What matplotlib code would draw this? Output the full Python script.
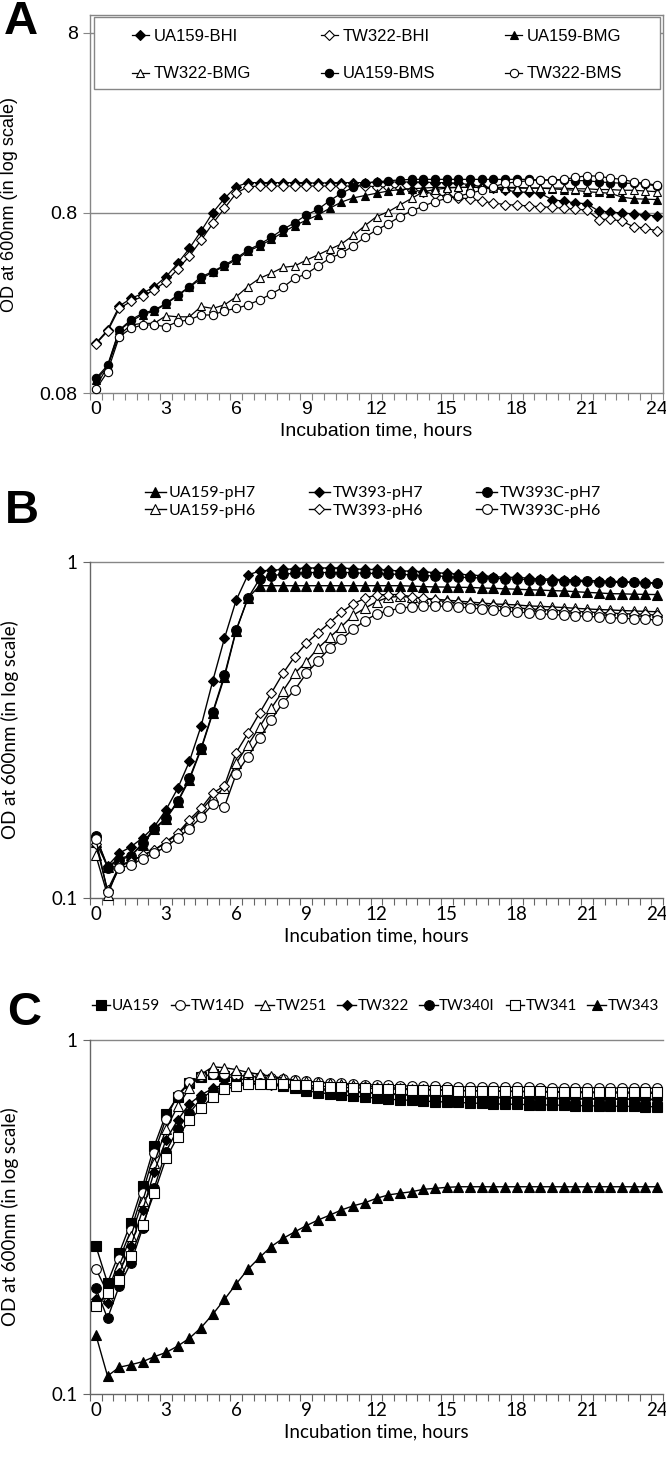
import matplotlib
matplotlib.use('Agg')
import matplotlib.pyplot as plt
from matplotlib.patches import Rectangle
from matplotlib.ticker import FixedLocator, FixedFormatter, NullLocator

# sampling times (h)
hours = [0, 0.5, 1, 1.5, 2, 2.5, 3, 3.5, 4, 4.5, 5, 5.5, 6, 6.5, 7, 7.5, 8, 8.5,
         9, 9.5, 10, 10.5, 11, 11.5, 12, 12.5, 13, 13.5, 14, 14.5, 15, 15.5, 16,
         16.5, 17, 17.5, 18, 18.5, 19, 19.5, 20, 20.5, 21, 21.5, 22, 22.5, 23,
         23.5, 24]

# ---- panel A ----
a_labels = ['UA159-BHI', 'TW322-BHI', 'UA159-BMG', 'TW322-BMG', 'UA159-BMS', 'TW322-BMS']
ua_bhi = [0.151, 0.179, 0.243, 0.268, 0.286, 0.312, 0.354, 0.42, 0.509, 0.635,
          0.804, 0.964, 1.12, 1.18, 1.18, 1.18, 1.18, 1.18, 1.18, 1.17, 1.18,
          1.18, 1.18, 1.18, 1.19, 1.19, 1.19, 1.19, 1.19, 1.18, 1.18, 1.17, 1.15,
          1.12, 1.1, 1.07, 1.05, 1.04, 1.03, 0.95, 0.93, 0.91, 0.9, 0.82, 0.81,
          0.8, 0.79, 0.78, 0.77]
tw_bhi = [0.15, 0.176, 0.236, 0.258, 0.275, 0.30, 0.333, 0.39, 0.46, 0.565,
          0.70, 0.85, 1.03, 1.12, 1.13, 1.13, 1.13, 1.13, 1.13, 1.13, 1.13, 1.13,
          1.13, 1.13, 1.12, 1.11, 1.1, 1.08, 1.05, 1.02, 0.99, 0.97, 0.96, 0.93,
          0.91, 0.89, 0.885, 0.875, 0.867, 0.86, 0.85, 0.84, 0.83, 0.735, 0.74,
          0.72, 0.67, 0.66, 0.635]
ua_bmg = [0.094, 0.112, 0.178, 0.2, 0.218, 0.228, 0.25, 0.277, 0.31, 0.345,
          0.375, 0.405, 0.44, 0.49, 0.525, 0.57, 0.625, 0.68, 0.73, 0.78, 0.85,
          0.92, 0.97, 1.0, 1.03, 1.06, 1.08, 1.09, 1.1, 1.11, 1.11, 1.11, 1.11,
          1.11, 1.11, 1.11, 1.11, 1.1, 1.1, 1.09, 1.08, 1.07, 1.05, 1.04, 1.03,
          0.98, 0.96, 0.955, 0.95]
tw_bmg = [0.0867, 0.112, 0.168, 0.191, 0.195, 0.195, 0.215, 0.212, 0.212, 0.242,
          0.236, 0.247, 0.274, 0.312, 0.347, 0.37, 0.399, 0.406, 0.438, 0.468,
          0.503, 0.538, 0.6, 0.68, 0.764, 0.813, 0.886, 0.964, 1.05, 1.08, 1.1,
          1.11, 1.11, 1.11, 1.1, 1.1, 1.1, 1.1, 1.1, 1.1, 1.1, 1.09, 1.09, 1.08,
          1.08, 1.07, 1.07, 1.06, 1.05]
ua_bms = [0.0964, 0.114, 0.179, 0.204, 0.222, 0.231, 0.252, 0.28, 0.312, 0.354,
          0.378, 0.411, 0.448, 0.498, 0.536, 0.586, 0.649, 0.706, 0.78, 0.838,
          0.937, 1.03, 1.11, 1.17, 1.19, 1.21, 1.22, 1.23, 1.23, 1.23, 1.23, 1.23,
          1.23, 1.23, 1.23, 1.23, 1.23, 1.23, 1.22, 1.22, 1.22, 1.21, 1.21, 1.19,
          1.18, 1.17, 1.17, 1.155, 1.13]
tw_bms = [0.0838, 0.105, 0.164, 0.183, 0.191, 0.191, 0.187, 0.199, 0.204, 0.217,
          0.217, 0.229, 0.236, 0.247, 0.263, 0.284, 0.309, 0.347, 0.367, 0.406,
          0.448, 0.478, 0.525, 0.586, 0.644, 0.696, 0.764, 0.82, 0.875, 0.925,
          0.964, 0.993, 1.03, 1.07, 1.12, 1.17, 1.19, 1.21, 1.22, 1.22, 1.23,
          1.26, 1.29, 1.28, 1.25, 1.23, 1.19, 1.17, 1.14]

# ---- panel B ----
b_labels = ['UA159-pH7', 'TW393-pH7', 'TW393C-pH7', 'UA159-pH6', 'TW393-pH6', 'TW393C-pH6']
ua_ph7 = [0.147, 0.124, 0.131, 0.134, 0.144, 0.16, 0.172, 0.193, 0.225, 0.277,
          0.355, 0.455, 0.625, 0.78, 0.85, 0.85, 0.85, 0.85, 0.85, 0.85, 0.85,
          0.85, 0.85, 0.85, 0.85, 0.85, 0.85, 0.848, 0.845, 0.843, 0.842, 0.841,
          0.84, 0.837, 0.835, 0.832, 0.83, 0.827, 0.825, 0.822, 0.82, 0.816,
          0.812, 0.809, 0.805, 0.804, 0.802, 0.801, 0.8]
tw_ph7 = [0.152, 0.1245, 0.136, 0.142, 0.151, 0.163, 0.183, 0.212, 0.255, 0.325,
          0.443, 0.593, 0.77, 0.915, 0.94, 0.945, 0.95, 0.955, 0.96, 0.96, 0.96,
          0.96, 0.955, 0.95, 0.95, 0.945, 0.94, 0.94, 0.935, 0.93, 0.925, 0.92,
          0.915, 0.91, 0.905, 0.9, 0.9, 0.895, 0.89, 0.89, 0.885, 0.885, 0.88,
          0.88, 0.875, 0.875, 0.87, 0.87, 0.865]
twc_ph7 = [0.153, 0.123, 0.13, 0.133, 0.146, 0.161, 0.173, 0.194, 0.227, 0.279,
           0.358, 0.461, 0.628, 0.78, 0.89, 0.91, 0.92, 0.925, 0.93, 0.93, 0.93,
           0.93, 0.93, 0.925, 0.925, 0.92, 0.92, 0.915, 0.91, 0.91, 0.905, 0.9,
           0.9, 0.895, 0.895, 0.89, 0.89, 0.885, 0.885, 0.88, 0.88, 0.875, 0.875,
           0.87, 0.87, 0.87, 0.87, 0.865, 0.865]
ua_ph6 = [0.134, 0.102, 0.125, 0.129, 0.134, 0.139, 0.146, 0.155, 0.168, 0.182,
          0.2, 0.212, 0.252, 0.285, 0.323, 0.367, 0.413, 0.466, 0.505, 0.554,
          0.597, 0.642, 0.695, 0.728, 0.762, 0.785, 0.79, 0.785, 0.78, 0.775,
          0.77, 0.765, 0.76, 0.755, 0.75, 0.748, 0.745, 0.74, 0.738, 0.735, 0.732,
          0.728, 0.725, 0.722, 0.72, 0.717, 0.715, 0.713, 0.711]
tw_ph6 = [0.145, 0.1056, 0.1245, 0.128, 0.134, 0.139, 0.147, 0.156, 0.171, 0.185,
          0.205, 0.216, 0.271, 0.309, 0.355, 0.407, 0.466, 0.523, 0.573, 0.616,
          0.66, 0.709, 0.75, 0.78, 0.798, 0.80, 0.80, 0.788, 0.78, 0.77, 0.762,
          0.755, 0.75, 0.745, 0.74, 0.735, 0.73, 0.726, 0.722, 0.719, 0.716, 0.713,
          0.71, 0.707, 0.705, 0.702, 0.70, 0.698, 0.695]
twc_ph6 = [0.15, 0.104, 0.1226, 0.1254, 0.131, 0.136, 0.142, 0.151, 0.161, 0.174,
           0.19, 0.187, 0.234, 0.263, 0.299, 0.339, 0.381, 0.416, 0.466, 0.508,
           0.554, 0.589, 0.63, 0.669, 0.70, 0.716, 0.728, 0.736, 0.74, 0.74, 0.738,
           0.735, 0.73, 0.725, 0.72, 0.715, 0.71, 0.706, 0.702, 0.698, 0.695,
           0.692, 0.689, 0.686, 0.683, 0.68, 0.678, 0.675, 0.672]

# ---- panel C ----
c_labels = ['UA159', 'TW14D', 'TW251', 'TW322', 'TW340I', 'TW341', 'TW343']
c_ua159 = [0.262, 0.206, 0.25, 0.305, 0.387, 0.502, 0.617, 0.692, 0.758, 0.785,
           0.80, 0.79, 0.78, 0.77, 0.76, 0.75, 0.74, 0.73, 0.72, 0.71, 0.705, 0.70,
           0.695, 0.69, 0.685, 0.68, 0.678, 0.675, 0.672, 0.67, 0.668, 0.666,
           0.664, 0.662, 0.66, 0.659, 0.658, 0.657, 0.656, 0.655, 0.654, 0.653,
           0.652, 0.651, 0.65, 0.65, 0.649, 0.648, 0.648]
c_tw14d = [0.226, 0.193, 0.24, 0.29, 0.37, 0.48, 0.60, 0.70, 0.76, 0.79, 0.80,
           0.80, 0.795, 0.79, 0.785, 0.78, 0.775, 0.77, 0.765, 0.76, 0.757, 0.754,
           0.751, 0.748, 0.746, 0.744, 0.742, 0.741, 0.74, 0.739, 0.738, 0.737,
           0.737, 0.736, 0.736, 0.735, 0.735, 0.735, 0.734, 0.734, 0.734, 0.733,
           0.733, 0.733, 0.732, 0.732, 0.732, 0.731, 0.731]
c_tw251 = [0.181, 0.188, 0.23, 0.28, 0.35, 0.45, 0.56, 0.65, 0.73, 0.80, 0.84,
           0.835, 0.825, 0.81, 0.80, 0.79, 0.78, 0.77, 0.765, 0.76, 0.755, 0.75,
           0.745, 0.74, 0.737, 0.734, 0.731, 0.728, 0.726, 0.724, 0.722, 0.72,
           0.719, 0.718, 0.717, 0.716, 0.715, 0.714, 0.713, 0.712, 0.711, 0.71,
           0.71, 0.709, 0.709, 0.708, 0.708, 0.707, 0.707]
c_tw322 = [0.186, 0.181, 0.22, 0.262, 0.331, 0.425, 0.522, 0.594, 0.66, 0.70,
           0.73, 0.75, 0.755, 0.755, 0.75, 0.745, 0.74, 0.735, 0.73, 0.725, 0.72,
           0.716, 0.712, 0.709, 0.706, 0.703, 0.70, 0.698, 0.696, 0.694, 0.692,
           0.69, 0.689, 0.688, 0.687, 0.686, 0.685, 0.684, 0.683, 0.682, 0.682,
           0.681, 0.681, 0.68, 0.68, 0.68, 0.679, 0.679, 0.678]
c_tw340i = [0.199, 0.1636, 0.202, 0.235, 0.294, 0.383, 0.484, 0.56, 0.621, 0.684,
            0.719, 0.74, 0.75, 0.755, 0.755, 0.75, 0.745, 0.74, 0.735, 0.73,
            0.725, 0.72, 0.716, 0.712, 0.709, 0.706, 0.703, 0.70, 0.698, 0.696,
            0.694, 0.692, 0.691, 0.69, 0.689, 0.688, 0.687, 0.686, 0.685, 0.685,
            0.684, 0.684, 0.683, 0.683, 0.682, 0.682, 0.681, 0.681, 0.68]
c_tw341 = [0.177, 0.193, 0.21, 0.245, 0.30, 0.37, 0.463, 0.533, 0.594, 0.641,
           0.692, 0.725, 0.74, 0.75, 0.752, 0.752, 0.75, 0.747, 0.744, 0.741,
           0.738, 0.735, 0.733, 0.731, 0.729, 0.727, 0.726, 0.724, 0.723, 0.722,
           0.721, 0.72, 0.719, 0.718, 0.718, 0.717, 0.717, 0.716, 0.716, 0.715,
           0.715, 0.714, 0.714, 0.713, 0.713, 0.713, 0.712, 0.712, 0.712]
c_tw343 = [0.147, 0.1124, 0.119, 0.121, 0.1234, 0.1275, 0.131, 0.1366, 0.1437,
           0.154, 0.168, 0.185, 0.2046, 0.225, 0.243, 0.261, 0.275, 0.287, 0.299,
           0.31, 0.32, 0.331, 0.34, 0.347, 0.357, 0.365, 0.369, 0.3727, 0.3786,
           0.381, 0.3835, 0.385, 0.385, 0.385, 0.385, 0.385, 0.385, 0.385, 0.385,
           0.385, 0.385, 0.385, 0.385, 0.385, 0.385, 0.385, 0.385, 0.385, 0.385]

GRAY = '#868686'
ARIAL = 'Liberation Sans'
CALIBRI = 'Lato'

W, H = 666, 1458
fig = plt.figure(figsize=(W / 100, H / 100), dpi=100)


def add_ax(left, top, right, bottom):
    return fig.add_axes([left / W, 1 - bottom / H, (right - left) / W, (bottom - top) / H])


def style_axis(ax, yticks, ylabels, ylim, family, fsize, spine_col):
    ax.set_yscale('log')
    ax.set_ylim(*ylim)
    ax.set_xlim(-0.25, 24.25)
    ax.yaxis.set_major_locator(FixedLocator(yticks))
    ax.yaxis.set_major_formatter(FixedFormatter(ylabels))
    ax.yaxis.set_minor_locator(NullLocator())
    ax.xaxis.set_major_locator(FixedLocator([0, 3, 6, 9, 12, 15, 18, 21, 24]))
    ax.xaxis.set_minor_locator(FixedLocator([-0.25 + 0.5 * k for k in range(50)]))
    ax.tick_params(axis='x', which='major', length=0, pad=6)
    ax.tick_params(axis='x', which='minor', length=5, width=0.8, color=spine_col)
    ax.tick_params(axis='y', which='major', length=5, width=0.8, color=spine_col, pad=4)
    for lab in ax.get_xticklabels() + ax.get_yticklabels():
        lab.set_fontfamily(family)
        lab.set_fontsize(fsize)
    for sp in ax.spines.values():
        sp.set_color(spine_col)
        sp.set_linewidth(1.0)
    ax.set_xlabel('Incubation time, hours', family=family, fontsize=fsize, labelpad=3)


def plot_series(ax, data, labels, styles, lw, order):
    handles = []
    for ys, lab, (mk, fc, ms) in zip(data, labels, styles):
        h, = ax.plot(hours, ys, color='black', lw=lw, marker=mk, ms=ms,
                     mfc=fc, mec='black', mew=0.8, label=lab, clip_on=False, zorder=4)
        handles.append(h)
    return [handles[i] for i in order]


# ---------------- A ----------------
axA = add_ax(90, 15, 663, 393)
style_axis(axA, [0.08, 0.8, 8], ['0.08', '0.8', '8'], (0.08, 10.07), ARIAL, 14, GRAY)
for g in (0.8, 8):
    axA.axhline(g, color=GRAY, lw=1.0, zorder=1)
a_styles = [('D', 'black', 5), ('D', 'white', 5), ('^', 'black', 6),
            ('^', 'white', 6), ('o', 'black', 6), ('o', 'white', 6)]
hA = plot_series(axA, [ua_bhi, tw_bhi, ua_bmg, tw_bmg, ua_bms, tw_bms],
                 a_labels, a_styles, 0.9, [0, 3, 1, 4, 2, 5])
axA.add_patch(Rectangle(((94 - 90) / 573, (393 - 89) / 378), 566 / 573, 72 / 378,
                        transform=axA.transAxes, facecolor='white', edgecolor=GRAY,
                        lw=1.0, zorder=5))
legA = axA.legend(handles=hA, ncol=3, loc='upper left',
                  bbox_to_anchor=((132 - 90) / 573, (393 - 29) / 378),
                  frameon=False, borderpad=0, borderaxespad=0, handlelength=1.0,
                  handletextpad=0.3, columnspacing=4.2, labelspacing=1.35,
                  prop={'family': ARIAL, 'size': 12})
legA.set_zorder(6)
fig.text(10 / W, 1 - 204 / H, 'OD at 600nm (in log scale)', rotation=90,
         ha='center', va='center', family=ARIAL, fontsize=13)
fig.text(21 / W, 1 - 22 / H, 'A', family=ARIAL, fontsize=34, fontweight='bold',
         ha='center', va='center')

# ---------------- B ----------------
axB = add_ax(90, 562, 663, 898)
style_axis(axB, [0.1, 1], ['0.1', '1'], (0.1, 1), CALIBRI, 13.5, '#666666')
axB.spines['top'].set_visible(False)
axB.spines['right'].set_visible(False)
axB.axhline(1, color=GRAY, lw=1.0, zorder=1, clip_on=False)
b_styles = [('^', 'black', 6.5), ('D', 'black', 5.5), ('o', 'black', 7),
            ('^', 'white', 6.5), ('D', 'white', 5.5), ('o', 'white', 7)]
hB = plot_series(axB, [ua_ph7, tw_ph7, twc_ph7, ua_ph6, tw_ph6, twc_ph6],
                 b_labels, b_styles, 1.0, [0, 3, 1, 4, 2, 5])
fig.legend(handles=hB, ncol=3, loc='upper left',
           bbox_to_anchor=(145 / W, 1 - 486 / H), frameon=False, borderpad=0,
           borderaxespad=0, handlelength=1.3, handletextpad=0.2, columnspacing=3.3,
           labelspacing=0.2, prop={'family': CALIBRI, 'size': 11.5})
fig.text(10 / W, 1 - 730 / H, 'OD at 600nm (in log scale)', rotation=90,
         ha='center', va='center', family=CALIBRI, fontsize=13.5)
fig.text(22 / W, 1 - 511 / H, 'B', family=ARIAL, fontsize=34, fontweight='bold',
         ha='center', va='center')

# ---------------- C ----------------
axC = add_ax(90, 1040, 663, 1394)
style_axis(axC, [0.1, 1], ['0.1', '1'], (0.1, 1), CALIBRI, 13.5, '#666666')
axC.spines['top'].set_visible(False)
axC.spines['right'].set_visible(False)
axC.axhline(1, color=GRAY, lw=1.0, zorder=1, clip_on=False)
c_styles = [('s', 'black', 6.5), ('o', 'white', 7), ('^', 'white', 7),
            ('D', 'black', 5.5), ('o', 'black', 7), ('s', 'white', 6.5),
            ('^', 'black', 7)]
hC = plot_series(axC, [c_ua159, c_tw14d, c_tw251, c_tw322, c_tw340i, c_tw341, c_tw343],
                 c_labels, c_styles, 1.0, list(range(7)))
fig.legend(handles=hC, ncol=7, loc='upper left',
           bbox_to_anchor=(92 / W, 1 - 999 / H), frameon=False, borderpad=0,
           borderaxespad=0, handlelength=1.2, handletextpad=0.1, columnspacing=0.7,
           prop={'family': CALIBRI, 'size': 11})
fig.text(10 / W, 1 - 1217 / H, 'OD at 600nm (in log scale)', rotation=90,
         ha='center', va='center', family=CALIBRI, fontsize=13.5)
fig.text(24 / W, 1 - 1013 / H, 'C', family=ARIAL, fontsize=34, fontweight='bold',
         ha='center', va='center')

fig.savefig('out.png', dpi=100)
